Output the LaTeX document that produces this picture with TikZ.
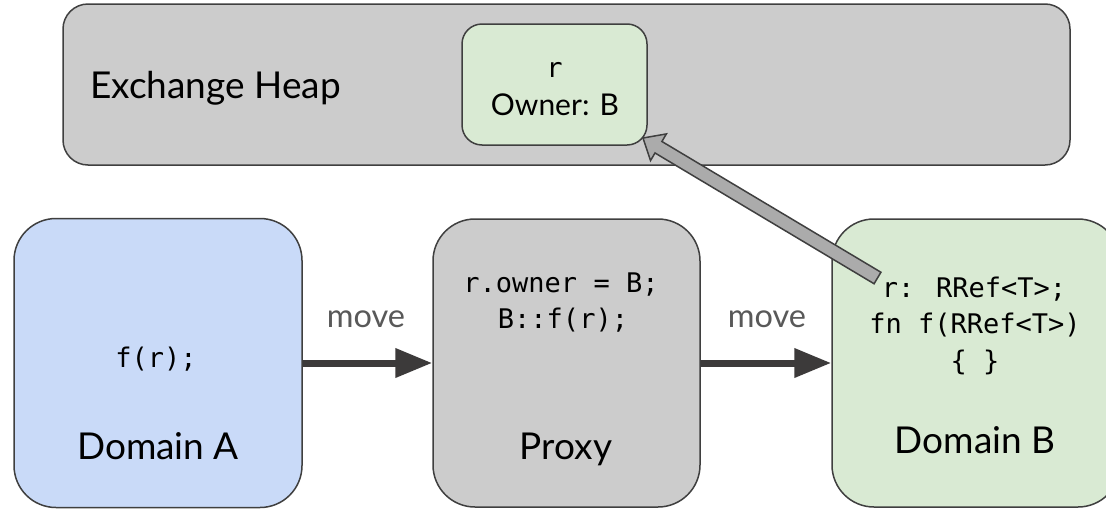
\documentclass[tikz,border=0pt]{standalone}
\usepackage{fontspec}
\usetikzlibrary{calc,arrows.meta}
\newfontfamily\labelfont{Lato}
\newfontfamily\codefont{DejaVu Sans Mono}

\definecolor{edge}{HTML}{3F3F3F}
\definecolor{heapgray}{HTML}{CCCCCC}
\definecolor{domblue}{HTML}{C9DAF8}
\definecolor{domgreen}{HTML}{D9EAD3}
\definecolor{arrowgray}{HTML}{ABABAB}
\definecolor{movegray}{HTML}{595959}
\definecolor{movedark}{HTML}{3C3A3A}

\tikzset{
  panel/.style={draw=edge, line width=1.5pt, rounded corners=#1, inner sep=0pt},
  code/.style={font=\codefont\fontsize{27}{36}\selectfont, inner sep=0pt, anchor=base},
  title/.style={font=\labelfont\fontsize{37}{42}\selectfont, inner sep=0pt, anchor=base},
  owner/.style={font=\labelfont\fontsize{30}{35}\selectfont, inner sep=0pt, anchor=base},
  movelabel/.style={font=\labelfont\fontsize{32.5}{37}\selectfont, text=movegray, inner sep=0pt, anchor=base},
  movearrow/.style={draw=movedark, line width=7pt, -{Triangle[length=37pt, width=28pt]}},
  transfer/.style={draw=edge, line width=1.5pt, fill=arrowgray, line join=miter}
}

\begin{document}
\begin{tikzpicture}[x=1pt, y=-1pt]
\clip (0,0) rectangle (1106,509);
\fill[white] (0,0) rectangle (1106,509);

% shared heap and the reference living in it
\node[panel=25pt, fill=heapgray, minimum width=1007pt, minimum height=161pt] (heap) at (566.5,84.5) {};
\node[title, anchor=base west] (heaplbl) at (90,98) {Exchange Heap};
\node[panel=20pt, fill=domgreen, minimum width=185pt, minimum height=121pt] (rbox) at (554.5,84.5) {};
\node[code] (rname) at (554.5,77) {r};
\node[owner] (rowner) at (555,115) {Owner: B};

% domains and the proxy between them
\node[panel=42pt, fill=domblue, minimum width=288pt, minimum height=289pt] (doma) at (158,363) {};
\node[panel=42pt, fill=heapgray, minimum width=267pt, minimum height=288pt] (proxy) at (566.5,363) {};
\node[panel=42pt, fill=domgreen, minimum width=288pt, minimum height=288pt] (domb) at (976,363) {};

\node[code] (calla) at (156,367) {f(r);};
\node[title] (lbla) at (158,459) {Domain A};

\node[code] (px1) at (561,292) {r.owner = B;};
\node[code] (px2) at (563,328) {B::f(r);};
\node[title] (lblp) at (566,459) {Proxy};

\node[code] (b1) at (974,297) {r: RRef<T>;};
\node[code] (b2) at (975,333) {fn f(RRef<T>)};
\node[code] (b3) at (975,370) {\{ \}};
\node[title] (lblb) at (975,453) {Domain B};

% ownership transfers
\draw[movearrow] (doma.east) -- (proxy.west);
\draw[movearrow] (proxy.east) -- (domb.west);
\node[movelabel] (mv1) at (366,327) {move};
\node[movelabel] (mv2) at (767,327) {move};

% block arrow from domain B back to the heap reference
\coordinate (tail) at (877.5,278);
\coordinate (tip) at (643,138);
\coordinate (neck) at ($(tip)!18pt!(tail)$);
\draw[transfer]
  (tip)
  -- ($(neck)!15.5pt!90:(tail)$)
  -- ($(neck)!6.7pt!90:(tail)$)
  -- ($(tail)!6.7pt!-90:(neck)$)
  -- ($(tail)!6.7pt!90:(neck)$)
  -- ($(neck)!6.7pt!-90:(tail)$)
  -- ($(neck)!15.5pt!-90:(tail)$)
  -- cycle;
\end{tikzpicture}
\end{document}
